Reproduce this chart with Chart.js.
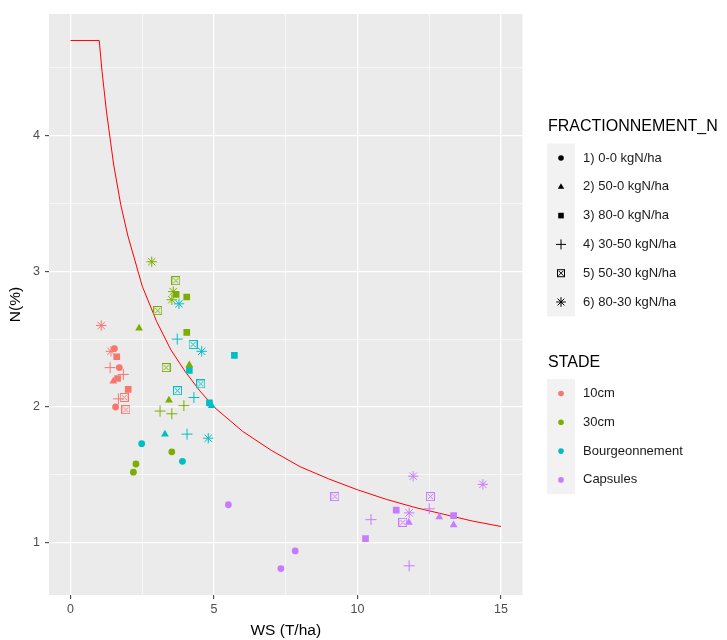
<!DOCTYPE html>
<html>
<head>
<meta charset="utf-8">
<script src="https://cdn.jsdelivr.net/npm/chart.js@4.4.1/dist/chart.umd.min.js"></script>
<style>
  html, body { margin: 0; padding: 0; background: #fff; }
  #wrap { width: 727px; height: 640px; }
</style>
</head>
<body>
<div id="wrap"><canvas id="plot" width="727" height="640"></canvas></div>
<script>
// treatments (shape) and stages (colour)
const fracLabels = ['1) 0-0 kgN/ha', '2) 50-0 kgN/ha', '3) 80-0 kgN/ha', '4) 30-50 kgN/ha', '5) 50-30 kgN/ha', '6) 80-30 kgN/ha'];
const stageLabels = ['10cm', '30cm', 'Bourgeonnement', 'Capsules'];
const stageColors = ['#F8766D', '#7CAE00', '#00BFC4', '#C77CFF'];

// 10cm
const ws10 = [1.53, 1.61, 1.70, 1.49, 1.64, 2.01, 1.57, 1.38, 1.84, 1.67, 1.87, 1.93, 1.07, 1.41];
const n10  = [2.43, 2.37, 2.29, 2.19, 2.21, 2.13, 2.00, 2.29, 2.24, 2.06, 2.07, 1.98, 2.60, 2.41];
const f10  = [1, 3, 1, 2, 3, 3, 1, 4, 4, 4, 5, 5, 6, 6];

// 30cm
const ws30 = [3.53, 2.28, 2.19, 2.39, 4.14, 3.43, 3.68, 4.05, 4.05, 3.95, 3.12, 3.53, 3.67, 3.04, 3.33, 2.83, 3.58, 3.53];
const n30  = [1.67, 1.58, 1.52, 2.58, 2.31, 2.05, 2.83, 2.81, 2.55, 2.01, 1.97, 1.95, 2.93, 2.71, 2.29, 3.07, 2.85, 2.79];
const f30  = [1, 1, 1, 2, 2, 2, 3, 3, 3, 4, 4, 4, 5, 5, 5, 6, 6, 6];

// Bourgeonnement
const wsBour = [2.48, 3.90, 4.92, 3.29, 4.14, 4.84, 5.71, 3.72, 4.30, 4.06, 4.27, 4.54, 3.73, 3.78, 4.57, 4.80];
const nBour  = [1.73, 1.60, 2.01, 1.80, 2.27, 2.03, 2.38, 2.50, 2.07, 1.80, 2.46, 2.17, 2.12, 2.76, 2.41, 1.77];
const fBour  = [1, 1, 2, 2, 3, 3, 3, 4, 4, 4, 5, 5, 5, 6, 6, 6];

// Capsules
const wsCaps = [5.50, 7.83, 7.33, 12.85, 11.79, 13.35, 11.35, 13.35, 10.28, 12.50, 10.47, 11.80, 12.54, 11.58, 9.21, 11.94, 14.37, 11.80];
const nCaps  = [1.28, 0.94, 0.81, 1.19, 1.15, 1.13, 1.24, 1.20, 1.03, 1.25, 1.17, 0.83, 1.34, 1.15, 1.34, 1.49, 1.43, 1.22];
const fCaps  = [1, 1, 1, 2, 2, 2, 3, 3, 3, 4, 4, 4, 5, 5, 5, 6, 6, 6];

// critical dilution curve
const curveWs = [0, 1, 1.1, 1.25, 1.5, 1.75, 2, 2.5, 3, 3.5, 4, 4.5, 5, 6, 7, 8, 9, 10, 11, 12, 13, 14, 15];
const curveN  = [4.70, 4.70, 4.47, 4.18, 3.79, 3.49, 3.26, 2.89, 2.63, 2.42, 2.26, 2.12, 2.00, 1.82, 1.68, 1.56, 1.47, 1.39, 1.32, 1.26, 1.21, 1.16, 1.12];

const xTicks = [0, 2.5, 5, 7.5, 10, 12.5, 15];
const yTicks = [1, 1.5, 2, 2.5, 3, 3.5, 4, 4.5];

const FONT = "'Liberation Sans', Arial, sans-serif";

// square with a cross inside, ggplot shape 7
const boxCross = (color, size) => {
  const c = document.createElement('canvas');
  c.width = size; c.height = size;
  const g = c.getContext('2d');
  g.strokeStyle = color;
  g.lineWidth = 1;
  g.strokeRect(0.5, 0.5, size - 1, size - 1);
  g.beginPath();
  g.moveTo(2, 2); g.lineTo(size - 2, size - 2);
  g.moveTo(size - 2, 2); g.lineTo(2, size - 2);
  g.stroke();
  return c;
};

const styleFor = (f, color) => {
  switch (f) {
    case 1: return { style: 'circle', r: 3.4, bw: 0 };
    case 2: return { style: 'triangle', r: 4.5, bw: 0 };
    case 3: return { style: 'rect', r: 4.7, bw: 0 };
    case 4: return { style: 'cross', r: 5.5, bw: 1 };
    case 5: return { style: boxCross(color, 9), r: 4.5, bw: 1 };
    default: return { style: 'star', r: 5.2, bw: 1 };
  }
};

const makeStage = (ws, n, f, idx) => {
  const color = stageColors[idx];
  const styles = f.map(v => styleFor(v, color));
  return {
    label: stageLabels[idx],
    type: 'scatter',
    data: ws.map((x, i) => ({ x: x, y: n[i] })),
    pointStyle: styles.map(s => s.style),
    pointRadius: styles.map(s => s.r),
    pointBorderWidth: styles.map(s => s.bw),
    backgroundColor: color,
    borderColor: color,
    order: 0
  };
};

const datasets = [
  makeStage(ws10, n10, f10, 0),
  makeStage(ws30, n30, f30, 1),
  makeStage(wsBour, nBour, fBour, 2),
  makeStage(wsCaps, nCaps, fCaps, 3),
  {
    label: 'curve',
    type: 'line',
    data: curveWs.map((x, i) => ({ x: x, y: curveN[i] })),
    borderColor: '#FF0000',
    borderWidth: 1,
    pointRadius: 0,
    fill: false,
    tension: 0,
    order: 1
  }
];

// grey panel behind the plot
const panelBg = {
  id: 'panelBg',
  beforeDraw(chart) {
    const { ctx, chartArea: a } = chart;
    ctx.save();
    ctx.fillStyle = '#EBEBEB';
    ctx.fillRect(a.left, a.top, a.right - a.left, a.bottom - a.top);
    ctx.restore();
  }
};

const drawKey = (ctx, f, x, y, color) => {
  ctx.save();
  ctx.fillStyle = color;
  ctx.strokeStyle = color;
  ctx.lineWidth = 1;
  ctx.beginPath();
  if (f === 0) {
    ctx.arc(x, y, 2.8, 0, Math.PI * 2);
    ctx.fill();
  } else if (f === 1) {
    ctx.moveTo(x, y - 3.6); ctx.lineTo(x + 3.2, y + 2); ctx.lineTo(x - 3.2, y + 2);
    ctx.closePath(); ctx.fill();
  } else if (f === 2) {
    ctx.fillRect(x - 2.8, y - 2.8, 5.6, 5.6);
  } else if (f === 3) {
    ctx.moveTo(x - 5, y); ctx.lineTo(x + 5, y);
    ctx.moveTo(x, y - 5); ctx.lineTo(x, y + 5);
    ctx.stroke();
  } else if (f === 4) {
    ctx.strokeRect(x - 3.5, y - 3.5, 7, 7);
    ctx.moveTo(x - 2.5, y - 2.5); ctx.lineTo(x + 2.5, y + 2.5);
    ctx.moveTo(x + 2.5, y - 2.5); ctx.lineTo(x - 2.5, y + 2.5);
    ctx.stroke();
  } else {
    const r = 4.8, d = r * Math.SQRT1_2;
    ctx.moveTo(x - r, y); ctx.lineTo(x + r, y);
    ctx.moveTo(x, y - r); ctx.lineTo(x, y + r);
    ctx.moveTo(x - d, y - d); ctx.lineTo(x + d, y + d);
    ctx.moveTo(x + d, y - d); ctx.lineTo(x - d, y + d);
    ctx.stroke();
  }
  ctx.restore();
};

// the two legends on the right
const sideLegend = {
  id: 'sideLegend',
  afterDraw(chart) {
    const ctx = chart.ctx;
    const keyX = 547, keyW = 28, textX = 583, step = 28.8;
    ctx.save();
    ctx.textBaseline = 'middle';
    ctx.textAlign = 'left';

    ctx.fillStyle = '#000';
    ctx.font = '16px ' + FONT;
    ctx.fillText('FRACTIONNEMENT_N', 548, 127);
    ctx.fillStyle = '#F2F2F2';
    ctx.fillRect(keyX, 143.5, keyW, step * fracLabels.length);
    fracLabels.forEach((lab, i) => {
      const y = 158 + i * step;
      drawKey(ctx, i, keyX + keyW / 2, y, '#000');
      ctx.fillStyle = '#1A1A1A';
      ctx.font = '13px ' + FONT;
      ctx.fillText(lab, textX, y);
    });

    ctx.fillStyle = '#000';
    ctx.font = '16px ' + FONT;
    ctx.fillText('STADE', 548, 363);
    ctx.fillStyle = '#F2F2F2';
    ctx.fillRect(keyX, 379, keyW, step * stageLabels.length);
    stageLabels.forEach((lab, i) => {
      const y = 393.5 + i * step;
      drawKey(ctx, 0, keyX + keyW / 2, y, stageColors[i]);
      ctx.fillStyle = '#1A1A1A';
      ctx.font = '13px ' + FONT;
      ctx.fillText(lab, textX, y);
    });
    ctx.restore();
  }
};

const isMajor = (v, step) => Math.abs(v / step - Math.round(v / step)) < 1e-6;

new Chart(document.getElementById('plot'), {
  data: { datasets: datasets },
  plugins: [panelBg, sideLegend],
  options: {
    responsive: false,
    animation: false,
    events: [],
    layout: { padding: { left: 0, top: 14, right: 204.5, bottom: 0 } },
    plugins: { legend: { display: false }, tooltip: { enabled: false } },
    scales: {
      x: {
        type: 'linear',
        min: -0.75,
        max: 15.75,
        afterBuildTicks: (scale) => { scale.ticks = xTicks.map(v => ({ value: v })); },
        afterFit: (scale) => { scale.height = 45; },
        border: { display: false },
        grid: {
          color: '#FFFFFF',
          lineWidth: (c) => isMajor(c.tick.value, 5) ? 1.3 : 0.6,
          tickColor: (c) => isMajor(c.tick.value, 5) ? '#333333' : 'rgba(0,0,0,0)',
          tickLength: 4,
          tickWidth: 1
        },
        ticks: {
          autoSkip: false,
          maxRotation: 0,
          padding: 3,
          color: '#4D4D4D',
          font: { family: FONT, size: 12.5 },
          callback: (v) => isMajor(v, 5) ? String(v) : ''
        },
        title: {
          display: true,
          text: 'WS (T/ha)',
          color: '#000',
          font: { family: FONT, size: 15.5 },
          padding: { top: 0, bottom: 0 }
        }
      },
      y: {
        type: 'linear',
        min: 0.615,
        max: 4.895,
        afterBuildTicks: (scale) => { scale.ticks = yTicks.map(v => ({ value: v })); },
        afterFit: (scale) => { scale.width = 49; },
        border: { display: false },
        grid: {
          color: '#FFFFFF',
          lineWidth: (c) => isMajor(c.tick.value, 1) ? 1.3 : 0.6,
          tickColor: (c) => isMajor(c.tick.value, 1) ? '#333333' : 'rgba(0,0,0,0)',
          tickLength: 4,
          tickWidth: 1
        },
        ticks: {
          autoSkip: false,
          padding: 5,
          color: '#4D4D4D',
          font: { family: FONT, size: 12.5 },
          callback: (v) => isMajor(v, 1) ? String(v) : ''
        },
        title: {
          display: true,
          text: 'N(%)',
          color: '#000',
          font: { family: FONT, size: 15.5 },
          padding: { top: 6, bottom: 0 }
        }
      }
    }
  }
});
</script>
</body>
</html>
